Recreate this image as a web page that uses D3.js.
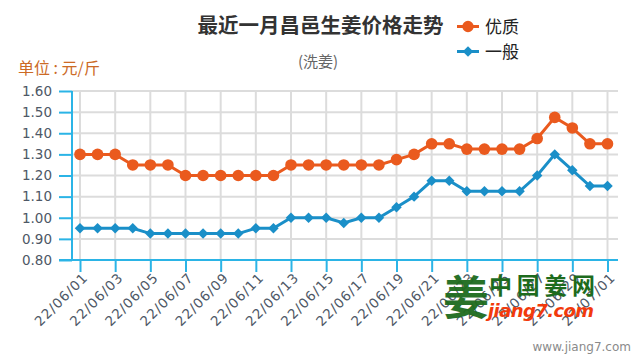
<!DOCTYPE html>
<html><head><meta charset="utf-8">
<script src="https://cdn.jsdelivr.net/npm/d3@7"></script>
<style>
html,body{margin:0;padding:0;background:#fff;}
svg{display:block;}
</style></head>
<body>
<svg id="c" width="640" height="360"></svg>
<script>
const dates = ["22/06/01","22/06/02","22/06/03","22/06/04","22/06/05","22/06/06","22/06/07","22/06/08","22/06/09","22/06/10","22/06/11","22/06/12","22/06/13","22/06/14","22/06/15","22/06/16","22/06/17","22/06/18","22/06/19","22/06/20","22/06/21","22/06/22","22/06/23","22/06/24","22/06/25","22/06/26","22/06/27","22/06/28","22/06/29","22/06/30","22/07/01"];
const premium = [1.30,1.30,1.30,1.25,1.25,1.25,1.20,1.20,1.20,1.20,1.20,1.20,1.25,1.25,1.25,1.25,1.25,1.25,1.275,1.30,1.35,1.35,1.325,1.325,1.325,1.325,1.375,1.475,1.425,1.35,1.35];
const normal = [0.95,0.95,0.95,0.95,0.925,0.925,0.925,0.925,0.925,0.925,0.95,0.95,1.00,1.00,1.00,0.975,1.00,1.00,1.05,1.10,1.175,1.175,1.125,1.125,1.125,1.125,1.20,1.30,1.225,1.15,1.15];
const yTicks = [0.80,0.90,1.00,1.10,1.20,1.30,1.40,1.50,1.60];
const seriesNames = ["优质","一般"];
const title = "最近一月昌邑生姜价格走势";
const subtitle = "(洗姜)";
const unitLabel = "单位 : 元/斤";

(function(){
const svg = d3.select("#c");
const orange = "#ea5a1e", blue = "#1a8fc8", axisCol = "#2bb4e6", gridCol = "#dcdcdc";
const pL = 72, pR = 618, pT = 91, pB = 260;

const x = d3.scalePoint().domain(dates).range([80, 607.5]);
const y = d3.scaleLinear().domain([0.8, 1.6]).range([pB, pT]);
const labelDates = dates.filter((d,i)=>i%2===0);

svg.append("g").selectAll("line").data(yTicks.slice(1)).join("line")
  .attr("x1", pL).attr("x2", pR).attr("y1", d=>y(d)).attr("y2", d=>y(d))
  .attr("stroke", gridCol).attr("stroke-width", 2);
svg.append("g").selectAll("line").data(labelDates).join("line")
  .attr("x1", d=>x(d)).attr("x2", d=>x(d)).attr("y1", pT).attr("y2", pB)
  .attr("stroke", gridCol).attr("stroke-width", 2);

const yAxis = d3.axisLeft(y).tickValues(yTicks).tickFormat(d3.format(".2f")).tickSize(13).tickPadding(7);
const gy = svg.append("g").attr("transform", `translate(${pL},0)`).call(yAxis);
gy.select(".domain").attr("stroke", axisCol).attr("stroke-width", 2).attr("d", `M0,${pT}V${pB}`);
gy.selectAll(".tick line").attr("stroke", axisCol).attr("stroke-width", 2);
gy.selectAll(".tick text").attr("fill", "#4e5866").style("font", "13.5px 'DejaVu Sans'");

const xAxis = d3.axisBottom(x).tickValues(labelDates).tickSize(12).tickPadding(4);
const gx = svg.append("g").attr("transform", `translate(0,${pB})`).call(xAxis);
gx.select(".domain").attr("stroke", axisCol).attr("stroke-width", 2).attr("d", `M59,0H${pR}`);
gx.selectAll(".tick line").attr("stroke", axisCol).attr("stroke-width", 2);
gx.selectAll(".tick text").attr("fill", "#4e5866").style("font", "13.5px 'DejaVu Sans'")
  .attr("letter-spacing", "1px")
  .attr("text-anchor", "end").attr("dy", "0.35em")
  .attr("transform", "translate(5,15) rotate(-45)").attr("y", 0).attr("x", 0);

const line = d3.line().x((d,i)=>x(dates[i])).y(d=>y(d));
svg.append("path").datum(premium).attr("d", line).attr("fill","none").attr("stroke", orange).attr("stroke-width", 3);
svg.append("path").datum(normal).attr("d", line).attr("fill","none").attr("stroke", blue).attr("stroke-width", 3);
svg.append("g").selectAll("circle").data(premium).join("circle")
  .attr("cx", (d,i)=>x(dates[i])).attr("cy", d=>y(d)).attr("r", 5.8).attr("fill", orange);
const diamond = d3.symbol().type(d3.symbolDiamond2 || d3.symbolDiamond).size(70);
svg.append("g").selectAll("path").data(normal).join("path")
  .attr("d", diamond).attr("transform", (d,i)=>`translate(${x(dates[i])},${y(d)})`).attr("fill", blue);

svg.append("text").attr("x", 320.5).attr("y", 33).attr("text-anchor","middle")
  .style("font", "bold 20.5px 'Noto Sans CJK SC'").attr("fill", "#333").text(title);
svg.append("text").attr("x", 318).attr("y", 67).attr("text-anchor","middle")
  .style("font", "15px 'Noto Sans CJK SC'").attr("fill", "#666").text(subtitle);
svg.append("text").attr("x", 18).attr("y", 74)
  .style("font", "16px 'Noto Sans CJK SC'").attr("fill", "#cc6a25").text(unitLabel);

const legend = [{name:seriesNames[0], color:orange, sym:"circle", yy:26.5},{name:seriesNames[1], color:blue, sym:"diamond", yy:51.5}];
const lg = svg.append("g").selectAll("g").data(legend).join("g").attr("transform", d=>`translate(0,${d.yy})`);
lg.append("line").attr("x1",457).attr("x2",479).attr("stroke", d=>d.color).attr("stroke-width",3);
lg.append("path").attr("transform","translate(468,0)")
  .attr("d", d=> d.sym==="circle" ? d3.symbol().type(d3.symbolCircle).size(100)() : d3.symbol().type(d3.symbolDiamond2 || d3.symbolDiamond).size(70)())
  .attr("fill", d=>d.color);
lg.append("text").attr("x",485).attr("y",6).style("font","17px 'Noto Sans CJK SC'").attr("fill","#222").text(d=>d.name);

const wm = svg.append("g");
wm.append("text").attr("x", 443).attr("y", 314).style("font","bold 46px 'Noto Sans CJK SC'").attr("fill","#1d6b1d").attr("opacity",0.95).text("姜");
wm.append("text").attr("x", 489).attr("y", 294).style("font","bold 23px 'Noto Sans CJK SC'").attr("fill","#1d6b1d").attr("textLength",106).text("中国姜网");
wm.append("text").attr("x", 488).attr("y", 317).style("font","italic bold 18px 'DejaVu Sans'").attr("fill","#f23a0c").attr("textLength",106).text("jiang7.com");
svg.append("text").attr("x", 631).attr("y", 351).attr("text-anchor","end").style("font","12px 'DejaVu Sans'").attr("fill","#8a8a8a").text("www.jiang7.com");
})();
</script>
</body></html>
